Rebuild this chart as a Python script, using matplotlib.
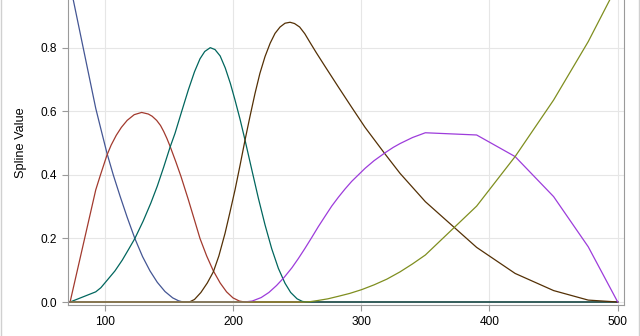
import matplotlib
matplotlib.use('Agg')
import matplotlib.pyplot as plt
from matplotlib.lines import Line2D

# Spline basis curves (x, value)
spl1_x = [73, 93, 97, 101.8, 106.7, 112, 117.5, 123.5, 129.5, 135.3, 141, 147, 153, 157.5, 161, 500]
spl1_y = [1.0, 0.61, 0.545, 0.468, 0.40, 0.333, 0.267, 0.2, 0.143, 0.098, 0.062, 0.033, 0.013, 0.004, 0, 0]

spl2_x = [73, 93, 96.5, 101.7, 105, 109, 113, 117.5, 123, 128.8, 134, 137, 140.5, 143.5, 146, 148.5,
          150.9, 155.5, 159.5, 165, 170, 174.3, 179.5, 184.7, 190, 195, 200, 205, 209, 500]
spl2_y = [0, 0.353, 0.398, 0.462, 0.494, 0.525, 0.55, 0.572, 0.59, 0.597, 0.592, 0.585, 0.572, 0.556, 0.537, 0.515,
          0.491, 0.441, 0.395, 0.325, 0.258, 0.20, 0.145, 0.098, 0.06, 0.032, 0.013, 0.003, 0, 0]

spl3_x = [73, 93, 97, 102, 108, 113.7, 118.5, 123.5, 130, 136, 141, 146, 150.9, 154.8, 160, 165.2, 170,
          174.3, 178, 182.3, 186, 190, 194, 198, 201.6, 205.5, 209.4, 214.6, 219.8, 225, 230.2, 235.4,
          240.6, 245, 250, 254, 257, 500]
spl3_y = [0, 0.032, 0.045, 0.069, 0.098, 0.132, 0.165, 0.2, 0.255, 0.312, 0.365, 0.425, 0.487, 0.531, 0.60,
          0.668, 0.725, 0.766, 0.789, 0.801, 0.795, 0.775, 0.737, 0.688, 0.636, 0.576, 0.51, 0.418, 0.327,
          0.243, 0.168, 0.106, 0.059, 0.03, 0.01, 0.002, 0, 0]

spl4_x = [73, 166, 170, 175, 180, 184.7, 189, 193.8, 197.5, 201.6, 205.5, 209.4, 213.3, 217.2, 221, 225,
          229, 232.8, 236.7, 240.6, 244.5, 248, 252, 256, 260, 265, 271.8, 282.2, 292.6, 303, 318.6,
          330.3, 350, 390, 420, 450, 477, 500]
spl4_y = [0, 0, 0.008, 0.03, 0.06, 0.095, 0.145, 0.216, 0.28, 0.353, 0.43, 0.51, 0.585, 0.657, 0.72, 0.773,
          0.815, 0.846, 0.866, 0.878, 0.881, 0.877, 0.866, 0.845, 0.818, 0.785, 0.742, 0.677, 0.613, 0.55, 0.466,
          0.405, 0.316, 0.172, 0.090, 0.036, 0.006, 0]

spl5_x = [73, 209, 215, 222, 228, 234, 240, 246, 251, 256, 261.4, 266.5, 271.8, 277, 282.2, 287.4, 292.6,
          303, 310, 318.6, 325, 330.3, 340, 350, 390, 420, 450, 477, 500]
spl5_y = [0, 0, 0.003, 0.014, 0.03, 0.052, 0.078, 0.108, 0.137, 0.168, 0.203, 0.237, 0.27, 0.302, 0.33,
          0.356, 0.38, 0.421, 0.445, 0.47, 0.487, 0.499, 0.518, 0.533, 0.526, 0.458, 0.332, 0.174, 0]

spl6_x = [73, 255, 260, 266.6, 274, 282.2, 291, 300.4, 310, 320, 330.3, 340, 350, 390, 420, 450, 477, 500]
spl6_y = [0, 0, 0.001, 0.005, 0.01, 0.018, 0.027, 0.039, 0.054, 0.072, 0.095, 0.12, 0.148, 0.302, 0.458,
          0.636, 0.820, 1.0]

x_ticks = [100, 200, 300, 400, 500]
y_ticks = [0.0, 0.2, 0.4, 0.6, 0.8]

curves = [(spl1_x, spl1_y), (spl2_x, spl2_y), (spl3_x, spl3_y),
          (spl4_x, spl4_y), (spl5_x, spl5_y), (spl6_x, spl6_y)]
colors = ['#445694', '#A23A2E', '#01665E', '#543005', '#9D3CDB', '#7F8E1F']

plt.rcParams['font.family'] = ['Liberation Sans', 'DejaVu Sans']

fig = plt.figure(figsize=(6.4, 3.36), dpi=100)
ax = fig.add_axes([0.1058, 0.0923, 0.8692, 0.9728])  # top runs past the image, like the crop

for (xs, ys), c in zip(curves, colors):
    ax.plot(xs, ys, color=c, linewidth=0.9)

ax.set_xlim(71.15, 504.9)
ax.set_ylim(-0.0094, 1.02)
ax.set_xticks(x_ticks)
ax.set_yticks(y_ticks)
ax.set_yticklabels([f'{v:.1f}' for v in y_ticks])
ax.tick_params(axis='both', direction='out', length=4.3, width=0.8, color='#9A9A9A',
               labelsize=8.6, labelcolor='black', pad=3.5)
ax.grid(True, color='#E6E6E6', linewidth=0.8)
ax.set_axisbelow(True)
for s in ax.spines.values():
    s.set_color('#9A9A9A')
    s.set_linewidth(0.8)

ax.set_ylabel('Spline Value', fontsize=9.2)
ax.yaxis.set_label_coords(-0.073, 0.497)

# light border of the original image (left and right edges)
fig.add_artist(Line2D([0.0008, 0.0008], [0, 1], transform=fig.transFigure, color='#D0D0D0', linewidth=1))
fig.add_artist(Line2D([0.9989, 0.9989], [0, 1], transform=fig.transFigure, color='#D0D0D0', linewidth=1))

fig.savefig('out.png', dpi=100)
